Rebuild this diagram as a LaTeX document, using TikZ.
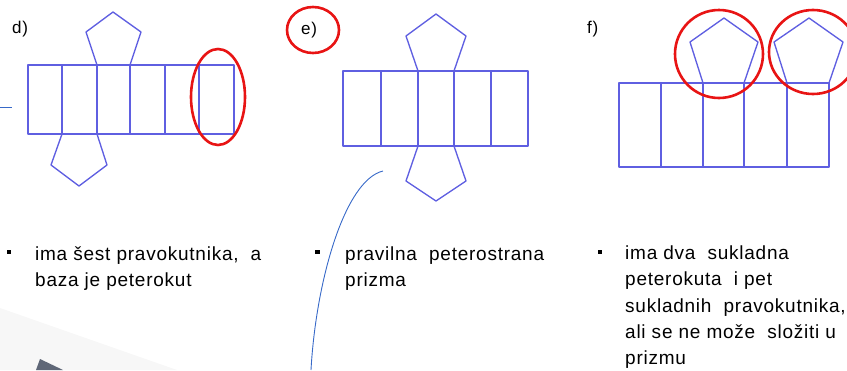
\documentclass[tikz,border=0pt]{standalone}
\usepackage{fontspec}
\setmainfont{Liberation Sans}[LetterSpace=4]
\definecolor{netblue}{RGB}{95,95,225}
\definecolor{mark}{RGB}{232,20,20}
\definecolor{curveblue}{RGB}{55,105,200}
\definecolor{darkgray}{RGB}{95,103,119}
\tikzset{
  net/.style={draw=netblue, line width=1.35pt, line join=round},
  ring/.style={draw=mark, line width=2.6pt},
  txt/.style={anchor=base west, inner sep=0pt, font=\fontsize{19}{26}\selectfont},
  lbl/.style={anchor=base west, inner sep=0pt, font=\fontsize{17}{20}\selectfont},
  bul/.style={fill=black},
}
\begin{document}
\begin{tikzpicture}[x=1pt,y=-1pt]
\useasboundingbox (0,0) rectangle (847,370);
% background shapes
\fill[black!3] (0,308) -- (177,370) -- (0,370) -- cycle;
\fill[darkgray] (40,359) -- (63,370) -- (36,370) -- cycle;
% labels
\node[lbl] (ld) at (12,33) {d)};
\node[lbl] (le) at (301,34) {e)};
\node[lbl] (lf) at (587,33) {f)};
% net d
\draw[net] (28,65) rectangle (234,134);
\foreach \x in {62,97,130,165,199} \draw[net] (\x,65) -- (\x,134);
\draw[net] (97,65) -- (86,32) -- (113,12) -- (141,32) -- (130,65);
\draw[net] (62,134) -- (51,165) -- (79,186) -- (107,165) -- (97,134);
% net e
\draw[net] (343,71) rectangle (528,146);
\foreach \x in {381,418,454,491} \draw[net] (\x,71) -- (\x,146);
\draw[net] (418,71) -- (406,36) -- (436,14) -- (466,36) -- (454,71);
\draw[net] (418,146) -- (406,181) -- (436,201) -- (466,181) -- (454,146);
% net f
\draw[net] (619,83) rectangle (829,167);
\foreach \x in {661,703,744,787} \draw[net] (\x,83) -- (\x,167);
\draw[net] (703,83) -- (690,42) -- (724,18) -- (758,42) -- (744,83);
\draw[net] (787,83) -- (774,42) -- (809,18) -- (843,42) -- (829,83);
% red marks
\draw[ring] (218,97) ellipse [x radius=27, y radius=48];
\draw[ring] (313,30) ellipse [x radius=26, y radius=23];
\draw[ring] (719,54) ellipse [x radius=44, y radius=44];
\draw[ring] (813,52) ellipse [x radius=44, y radius=42];
% blue strokes
\coordinate (c1) at (383,171);
\coordinate (c2) at (311,370);
\draw[curveblue, line width=0.9pt] (c1) .. controls (345,180) and (316,280) .. (c2);
\coordinate (l1) at (0,107);
\coordinate (l2) at (12,107);
\draw[curveblue, line width=1pt] (l1) -- (l2);
% texts
\fill[bul] (7,250) rectangle (11,254);
\node[txt] (d1) at (35,260) {ima šest pravokutnika,\ \ a};
\node[txt] (d2) at (35,286) {baza je peterokut};
\fill[bul] (315,250) rectangle (320,254);
\node[txt] (e1) at (345,260) {pravilna\ \ peterostrana};
\node[txt] (e2) at (345,286) {prizma};
\fill[bul] (598,250) rectangle (602,254);
\node[txt] (f1) at (625,259) {ima dva\ \ sukladna};
\node[txt] (f2) at (625,285) {peterokuta\ \ i pet};
\node[txt] (f3) at (625,312) {sukladnih\ \ pravokutnika,};
\node[txt] (f4) at (625,338) {ali se ne može\ \ složiti u};
\node[txt] (f5) at (625,364) {prizmu};
\end{tikzpicture}
\end{document}
